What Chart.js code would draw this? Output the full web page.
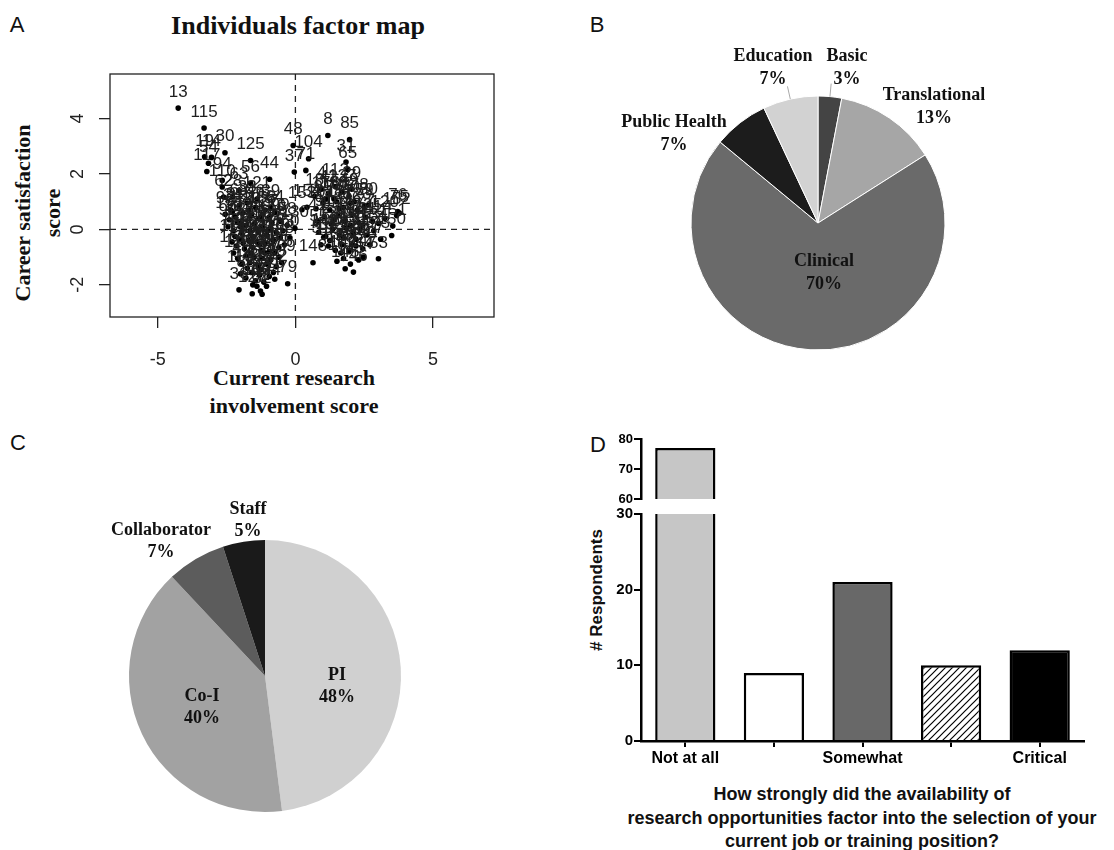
<!DOCTYPE html>
<html>
<head>
<meta charset="utf-8">
<title>Research involvement survey</title>
<script src="https://cdn.jsdelivr.net/npm/chart.js@4.4.1/dist/chart.umd.min.js"></script>
<style>
  html, body { margin: 0; padding: 0; background: #fff; overflow: hidden; }
  body { width: 1114px; height: 850px; position: relative; }
  canvas { position: absolute; }
  .c { position: absolute; white-space: nowrap; color: #111; transform: translate(-50%, -50%); }
  .sans { font-family: "Liberation Sans", Arial, sans-serif; }
  .serif { font-family: "Liberation Serif", "Times New Roman", serif; font-weight: bold; }
</style>
</head>
<body>
<div class="c sans" style="left:17px;top:25px;font-size:22px">A</div>
<div class="c serif" style="left:298px;top:26px;font-size:26px">Individuals factor map</div>
<div class="c serif" style="left:38px;top:213px;font-size:22px;line-height:30px;text-align:center;transform:translate(-50%,-50%) rotate(-90deg)">Career satisfaction<br>score</div>
<div class="c serif" style="left:294px;top:392px;font-size:22px;line-height:28px;text-align:center">Current research<br>involvement score</div>
<div class="c sans" style="left:597px;top:25px;font-size:22px">B</div>
<div class="c sans" style="left:18px;top:443px;font-size:22px">C</div>
<div class="c sans" style="left:598px;top:445px;font-size:22px">D</div>
<div class="c sans" style="left:597px;top:590px;font-size:17px;font-weight:bold;transform:translate(-50%,-50%) rotate(-90deg)"># Respondents</div>
<div class="c sans" style="left:862px;top:818px;font-size:18px;font-weight:bold;line-height:23.5px;text-align:center">How strongly did the availability of<br>research opportunities factor into the selection of your<br>current job or training position?</div>

<canvas id="pca" width="560" height="420" style="left:0;top:0"></canvas>
<canvas id="areaPie" width="440" height="330" style="left:600px;top:40px"></canvas>
<canvas id="rolePie" width="450" height="360" style="left:40px;top:480px"></canvas>
<canvas id="barsTop" width="554" height="80" style="left:560px;top:430px"></canvas>
<canvas id="barsLow" width="554" height="356" style="left:560px;top:500px"></canvas>

<script>
// A: individuals [id, research involvement score, career satisfaction score]
const individuals = [
  [13,-4.26,4.38],[115,-3.32,3.66],[30,-2.56,2.77],[19,-3.30,2.62],[14,-3.05,2.60],
  [54,-3.16,2.39],[117,-3.22,2.09],[94,-2.66,1.77],[110,-2.66,1.53],[62,-2.61,1.17],
  [28,-2.28,1.17],[63,-2.05,1.40],[24,-2.29,0.65],[125,-1.63,2.49],[56,-1.63,1.67],
  [44,-0.94,1.81],[39,-0.90,0.79],[121,-1.40,1.10],[48,-0.08,3.03],[37,-0.04,2.07],
  [130,-0.02,0.04],[60,-0.20,-0.30],[79,-0.28,-1.96],
  [97,-2.55,0.55],[9,-2.35,0.70],[57,-2.20,0.45],[68,-2.05,0.85],[101,-1.90,0.60],
  [33,-1.75,0.95],[89,-1.60,0.50],[46,-1.45,0.80],[119,-1.30,0.40],[5,-1.10,0.70],
  [27,-0.95,0.45],[64,-0.75,0.60],[99,-0.55,0.30],
  [92,-2.45,0.10],[12,-2.25,-0.05],[107,-2.10,0.25],[70,-1.95,-0.15],[21,-1.80,0.15],
  [84,-1.65,-0.05],[38,-1.50,0.20],[122,-1.35,-0.10],[6,-1.20,0.10],[47,-1.05,-0.20],
  [88,-0.90,0.05],[26,-0.70,-0.10],[3,-0.45,-0.05],[58,-0.30,0.15],
  [111,-2.30,-0.45],[17,-2.15,-0.60],[66,-2.00,-0.35],[35,-1.85,-0.70],[90,-1.70,-0.40],
  [128,-1.55,-0.65],[22,-1.40,-0.45],[74,-1.25,-0.75],[43,-1.10,-0.50],[105,-0.95,-0.80],
  [11,-0.80,-0.40],[69,-0.60,-0.65],[98,-0.40,-0.55],
  [116,-2.10,-1.05],[40,-1.95,-1.25],[81,-1.80,-0.95],[7,-1.65,-1.20],[93,-1.50,-1.00],
  [52,-1.35,-1.30],[124,-1.20,-1.05],[34,-1.05,-1.25],[67,-0.90,-1.10],[20,-0.70,-1.35],
  [109,-0.50,-1.20],
  [113,-2.00,-1.60],[86,-1.80,-1.75],[45,-1.60,-1.55],[2,-1.45,-1.85],[118,-1.30,-1.65],
  [61,-1.15,-1.90],[83,-0.95,-1.70],[15,-0.75,-1.80],
  [36,-2.05,-2.18],[126,-1.57,-2.32],[82,-1.27,-2.22],[32,-1.21,-2.34],[100,-1.40,-2.05],
  [155,-2.40,0.35],[156,-2.00,0.10],[157,-1.70,0.70],[158,-1.20,0.55],[159,-0.85,0.25],
  [160,-2.20,-0.25],[161,-1.55,-0.25],[162,-1.00,-0.05],[163,-0.55,-0.30],[164,-1.90,-0.50],
  [165,-1.30,-0.55],[166,-0.75,-0.85],[167,-2.25,-0.85],[168,-1.60,-0.85],[169,-1.10,-0.85],
  [170,-1.75,-1.40],[171,-1.25,-1.45],[172,-0.80,-1.55],[173,-1.55,-2.00],[174,-1.05,-2.05],
  [175,-0.60,-1.00],
  [8,1.18,3.39],[85,1.97,3.24],[31,1.84,2.43],[65,1.90,2.16],[29,2.05,1.45],
  [104,0.48,2.55],[71,0.38,2.13],
  [18,0.70,1.20],[4,0.95,1.45],[42,1.20,1.30],[112,1.45,1.55],[127,1.70,1.35],[49,1.95,1.20],
  [10,0.75,0.75],[95,1.00,0.95],[141,1.25,0.70],[102,1.50,1.00],[87,1.75,0.80],[50,2.00,0.95],
  [123,2.25,0.70],[59,2.50,0.85],[80,2.66,0.88],
  [41,0.80,0.30],[91,1.05,0.45],[23,1.30,0.20],[103,1.55,0.50],[72,1.80,0.30],[96,2.05,0.55],
  [1,2.30,0.25],[77,2.55,0.45],[25,2.80,0.30],[114,3.02,0.22],[120,3.25,0.40],
  [55,0.85,-0.10],[106,1.10,-0.25],[129,1.35,0.00],[78,1.60,-0.20],[108,1.85,0.05],
  [131,2.10,-0.15],[132,2.35,0.00],[133,2.60,-0.20],[134,2.85,-0.05],[73,3.10,-0.35],
  [135,1.20,-0.60],[136,1.45,-0.75],[137,1.70,-0.55],[138,1.95,-0.80],[139,2.20,-0.60],[140,2.45,-0.70],
  [16,1.51,-1.15],[142,1.75,-1.05],[143,2.00,-1.25],[144,2.30,-1.10],
  [145,1.81,-1.42],[146,2.11,-1.54],[147,2.47,-1.00],[53,3.02,-1.06],[148,0.64,-1.20],
  [51,0.93,-0.55],[149,1.03,-0.28],
  [150,3.50,-0.22],[151,3.54,0.12],[152,3.68,0.50],[75,3.78,0.59],[76,3.72,0.65],
  [153,0.24,0.71],[154,0.42,0.80],
  [176,1.10,1.10],[177,1.60,0.75],[178,2.15,1.00],[179,1.40,0.35],[180,2.00,0.15],
  [181,2.45,0.15],[182,1.25,-0.40],[183,1.75,-0.30],[184,2.20,-0.35],[185,1.65,-0.85],
  [186,2.05,-0.55],[187,2.70,-0.55],[188,1.40,1.10]
];
const pcaXTicks = [-5, 0, 5];
const pcaYTicks = [-2, 0, 2, 4];

// B: research area
const areaLabels = ['Basic', 'Translational', 'Clinical', 'Public Health', 'Education'];
const areaPct = [3, 13, 70, 7, 7];

// C: research role
const roleLabels = ['PI', 'Co-I', 'Collaborator', 'Staff'];
const rolePct = [48, 40, 7, 5];

// D: how strongly research opportunities factored in
const responseCats = ['Not at all', '', 'Somewhat', '', 'Critical'];
const respondents = [77, 9, 21, 10, 12];
const upperRange = [60, 80];
const lowerRange = [0, 30];

const SANS = '"Liberation Sans", Arial, sans-serif';
const SERIF = '"Liberation Serif", "Times New Roman", serif';

// R-style decorations: frame, dashed zero lines, rotated y labels, point ids
const pcaDecor = {
  id: 'pcaDecor',
  beforeDatasetsDraw(chart) {
    const { ctx, chartArea: a, scales: { x, y } } = chart;
    ctx.save();
    ctx.strokeStyle = '#222';
    ctx.lineWidth = 1.3;
    ctx.setLineDash([6, 5]);
    ctx.beginPath();
    ctx.moveTo(x.getPixelForValue(0), a.top);
    ctx.lineTo(x.getPixelForValue(0), a.bottom);
    ctx.moveTo(a.left, y.getPixelForValue(0));
    ctx.lineTo(a.right, y.getPixelForValue(0));
    ctx.stroke();
    ctx.restore();
  },
  afterDatasetsDraw(chart) {
    const { ctx, chartArea: a, scales: { y } } = chart;
    const meta = chart.getDatasetMeta(0);
    ctx.save();
    ctx.fillStyle = '#1e1e1e';
    ctx.font = '17px ' + SANS;
    ctx.textAlign = 'center';
    ctx.textBaseline = 'middle';
    meta.data.forEach((pt, i) => {
      ctx.fillText(String(individuals[i][0]), pt.x, pt.y - 16);
    });
    ctx.strokeStyle = '#222';
    ctx.lineWidth = 1.3;
    ctx.strokeRect(a.left, a.top, a.right - a.left, a.bottom - a.top);
    ctx.fillStyle = '#222';
    ctx.font = '18px ' + SANS;
    pcaYTicks.forEach(v => {
      ctx.save();
      ctx.translate(a.left - 32, y.getPixelForValue(v));
      ctx.rotate(-Math.PI / 2);
      ctx.fillText(String(v), 0, 0);
      ctx.restore();
    });
    ctx.restore();
  }
};

new Chart(document.getElementById('pca'), {
  type: 'scatter',
  data: {
    datasets: [{
      data: individuals.map(p => ({ x: p[1], y: p[2] })),
      pointRadius: 2.8,
      pointBackgroundColor: '#000',
      pointBorderWidth: 0
    }]
  },
  options: {
    responsive: false,
    animation: false,
    layout: { padding: { left: 0, top: 74, right: 66, bottom: 43 } },
    plugins: { legend: { display: false }, tooltip: { enabled: false } },
    scales: {
      x: {
        type: 'linear',
        min: -6.74,
        max: 7.22,
        afterBuildTicks: s => { s.ticks = pcaXTicks.map(v => ({ value: v })); },
        afterFit: s => { s.height = 60; },
        border: { display: false },
        grid: { drawOnChartArea: false, tickLength: 11, color: '#222', lineWidth: 1.3 },
        ticks: { color: '#222', font: { size: 18, family: SANS }, padding: 21 }
      },
      y: {
        min: -3.16,
        max: 5.61,
        afterBuildTicks: s => { s.ticks = pcaYTicks.map(v => ({ value: v })); },
        afterFit: s => { s.width = 110; },
        border: { display: false },
        grid: { drawOnChartArea: false, tickLength: 11, color: '#222', lineWidth: 1.3 },
        ticks: { display: false }
      }
    }
  },
  plugins: [pcaDecor]
});

// pie labels placed relative to the pie centre
const sliceLabels = {
  id: 'sliceLabels',
  afterDatasetsDraw(chart, args, opts) {
    const { ctx } = chart;
    const meta = chart.getDatasetMeta(0);
    const values = chart.data.datasets[0].data;
    ctx.save();
    ctx.font = 'bold 18px ' + SERIF;
    ctx.textAlign = 'center';
    ctx.textBaseline = 'middle';
    meta.data.forEach((arc, i) => {
      const [dx, dy] = opts.offsets[i];
      const cx = arc.x + dx, cy = arc.y + dy;
      ctx.fillStyle = '#111';
      ctx.fillText(chart.data.labels[i], cx, cy - opts.gap / 2);
      ctx.fillText(values[i] + '%', cx, cy + opts.gap / 2);
      if (opts.leaders && opts.leaders[i]) {
        const mid = (arc.startAngle + arc.endAngle) / 2;
        const r = arc.outerRadius;
        ctx.strokeStyle = '#aaa';
        ctx.lineWidth = 1;
        ctx.beginPath();
        ctx.moveTo(arc.x + r * Math.cos(mid), arc.y + r * Math.sin(mid));
        ctx.lineTo(arc.x + (r + 13) * Math.cos(mid), arc.y + (r + 13) * Math.sin(mid));
        ctx.stroke();
      }
    });
    ctx.restore();
  }
};

new Chart(document.getElementById('areaPie'), {
  type: 'pie',
  data: {
    labels: areaLabels,
    datasets: [{
      data: areaPct,
      backgroundColor: ['#444444', '#a6a6a6', '#6a6a6a', '#1c1c1c', '#d2d2d2'],
      borderColor: '#fff',
      borderWidth: 1,
      radius: 127
    }]
  },
  options: {
    responsive: false,
    animation: false,
    layout: { padding: { left: 0, right: 4, top: 36, bottom: 0 } },
    plugins: {
      legend: { display: false },
      tooltip: { enabled: false },
      sliceLabels: {
        gap: 23,
        offsets: [[29, -155], [116, -116], [6, 50], [-144, -89], [-45, -155]],
        leaders: [true, false, false, false, true]
      }
    }
  },
  plugins: [sliceLabels]
});

new Chart(document.getElementById('rolePie'), {
  type: 'pie',
  data: {
    labels: roleLabels,
    datasets: [{
      data: rolePct,
      backgroundColor: ['#d0d0d0', '#a2a2a2', '#5c5c5c', '#1a1a1a'],
      borderWidth: 0,
      radius: 136
    }]
  },
  options: {
    responsive: false,
    animation: false,
    layout: { padding: { left: 0, right: 0, top: 32, bottom: 0 } },
    plugins: {
      legend: { display: false },
      tooltip: { enabled: false },
      sliceLabels: {
        gap: 22,
        offsets: [[72, 10], [-63, 31], [-104, -135], [-17, -156]]
      }
    }
  },
  plugins: [sliceLabels]
});

function hatchPattern() {
  const c = document.createElement('canvas');
  c.width = 7; c.height = 7;
  const g = c.getContext('2d');
  g.fillStyle = '#fff';
  g.fillRect(0, 0, 7, 7);
  g.strokeStyle = '#000';
  g.lineWidth = 1.2;
  g.beginPath();
  g.moveTo(0, 7); g.lineTo(7, 0);
  g.moveTo(-1, 1); g.lineTo(1, -1);
  g.moveTo(6, 8); g.lineTo(8, 6);
  g.stroke();
  return g.createPattern(c, 'repeat');
}

const barFills = ['#c6c6c6', '#ffffff', '#686868', hatchPattern(), '#000000'];

function barDataset() {
  return {
    data: respondents,
    backgroundColor: barFills,
    borderColor: '#000',
    borderWidth: 2.5,
    barPercentage: 0.68,
    categoryPercentage: 1,
    clip: 0
  };
}

function yAxis(range, fontSize) {
  return {
    min: range[0],
    max: range[1],
    afterFit: s => { s.width = 81; },
    border: { display: true, color: '#000', width: 2.5 },
    grid: { drawOnChartArea: false, tickLength: 7, color: '#000', lineWidth: 2 },
    ticks: { stepSize: 10, color: '#000', padding: 1, font: { size: fontSize, weight: 'bold', family: SANS } }
  };
}

new Chart(document.getElementById('barsTop'), {
  type: 'bar',
  data: { labels: responseCats, datasets: [barDataset()] },
  options: {
    responsive: false,
    animation: false,
    layout: { padding: { left: 0, right: 30, top: 9, bottom: 11 } },
    plugins: { legend: { display: false }, tooltip: { enabled: false } },
    scales: {
      x: { display: false },
      y: yAxis(upperRange, 13)
    }
  }
});

new Chart(document.getElementById('barsLow'), {
  type: 'bar',
  data: { labels: responseCats, datasets: [barDataset()] },
  options: {
    responsive: false,
    animation: false,
    layout: { padding: { left: 0, right: 30, top: 14, bottom: 0 } },
    plugins: { legend: { display: false }, tooltip: { enabled: false } },
    scales: {
      x: {
        afterFit: s => { s.height = 115; },
        border: { display: true, color: '#000', width: 2.5 },
        grid: { offset: false, drawOnChartArea: false, tickLength: 6, color: '#000', lineWidth: 2 },
        ticks: { color: '#000', padding: 2, maxRotation: 0, autoSkip: false, font: { size: 16, weight: 'bold', family: SANS } }
      },
      y: yAxis(lowerRange, 15)
    }
  }
});
</script>
</body>
</html>
